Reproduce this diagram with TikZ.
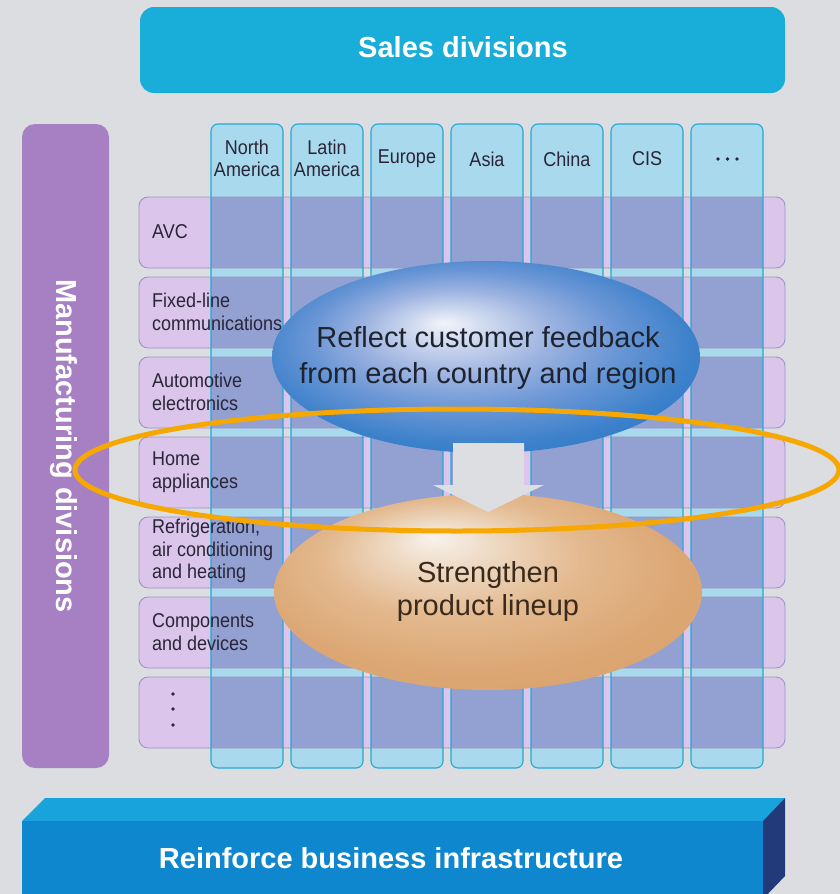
\documentclass[tikz,border=0pt]{standalone}
\usepackage{fontspec}
\setmainfont{Liberation Sans}
\newfontfamily\condfont[FakeStretch=0.9]{Liberation Sans}
\usetikzlibrary{shapes.geometric}
\definecolor{bg}{HTML}{DCDDE1}
\definecolor{sales}{HTML}{18AED9}
\definecolor{manu}{HTML}{A680C2}
\definecolor{colfill}{HTML}{A9D9EC}
\definecolor{colline}{HTML}{22A9D6}
\definecolor{rowfill}{HTML}{DBC5EA}
\definecolor{rowline}{HTML}{A092C6}
\definecolor{cellfill}{HTML}{92A1D2}
\definecolor{ringc}{HTML}{F7A800}
\definecolor{front}{HTML}{0E87CF}
\definecolor{topface}{HTML}{19A3DC}
\definecolor{sideface}{HTML}{22397A}
\definecolor{labtxt}{HTML}{2A2538}
\definecolor{bluetxt}{HTML}{1E2330}
\definecolor{tantxt}{HTML}{3A2A1C}
\definecolor{bA}{HTML}{F2F4FA}
\definecolor{bB}{HTML}{D2DCF0}
\definecolor{bC}{HTML}{9DB3E0}
\definecolor{bD}{HTML}{6A96D6}
\definecolor{bE}{HTML}{3A80CA}
\definecolor{bF}{HTML}{2A76C4}
\definecolor{tA}{HTML}{F8F2EC}
\definecolor{tB}{HTML}{EEDAC4}
\definecolor{tC}{HTML}{E3B98F}
\definecolor{tD}{HTML}{DCA774}
\definecolor{tE}{HTML}{D9A06A}
\pgfdeclareradialshading{blueball}{\pgfpoint{-5bp}{9bp}}{color(0bp)=(bA); color(4bp)=(bB); color(11bp)=(bC); color(18bp)=(bD); color(26bp)=(bE); color(36bp)=(bF)}
\pgfdeclareradialshading{tanball}{\pgfpoint{-6.5bp}{14bp}}{color(0bp)=(tA); color(6bp)=(tB); color(15bp)=(tC); color(25bp)=(tD); color(40bp)=(tE)}
\tikzset{
  bigtxt/.style={text=white, font=\bfseries\fontsize{29}{34}\selectfont, inner sep=0},
  coltxt/.style={text=labtxt, align=center, font=\condfont\fontsize{20}{22}\selectfont, inner sep=0},
  rowtxt/.style={text=labtxt, align=left, anchor=west, font=\condfont\fontsize{20}{22.5}\selectfont, inner sep=0},
  colbox/.style={fill=colfill, rounded corners=7pt},
  coledge/.style={draw=colline, line width=1.1pt, rounded corners=7pt},
  rowbox/.style={fill=rowfill, rounded corners=9pt},
  rowedge/.style={draw=rowline, line width=0.9pt, rounded corners=9pt},
  cellbox/.style={fill=cellfill},
  ring/.style={draw=ringc, line width=5pt},
  dotc/.style={fill=labtxt, circle, inner sep=0, minimum size=3.8pt}
}
\begin{document}
\begin{tikzpicture}[x=1pt,y=-1pt]
\useasboundingbox (0,0) rectangle (840,894);
\fill[bg] (0,0) rectangle (840,894);
% sales divisions
\node[fill=sales, rounded corners=14pt, minimum width=645pt, minimum height=86pt, inner sep=0] (salesbox) at (462.5,50) {};
\node[bigtxt] (salestxt) at (463,47) {Sales divisions};
% manufacturing divisions
\node[fill=manu, rounded corners=13pt, minimum width=87pt, minimum height=644pt, inner sep=0] (manubox) at (65.5,446) {};
\node[bigtxt, rotate=-90] (manutxt) at (64,446) {Manufacturing divisions};
% columns
\foreach \i in {0,...,6}{
  \fill[colbox] (211+80*\i,124) rectangle (283+80*\i,768);
}
% rows
\foreach \j in {0,...,6}{
  \fill[rowbox] (139,197+80*\j) rectangle (785,268+80*\j);
}
% overlap cells
\foreach \i in {0,...,6}{
  \foreach \j in {0,...,6}{
    \fill[cellbox] (211+80*\i,197+80*\j) rectangle (283+80*\i,268+80*\j);
  }
}
\foreach \j in {0,...,6}{
  \draw[rowedge] (139,197+80*\j) rectangle (785,268+80*\j);
}
\foreach \i in {0,...,6}{
  \draw[coledge] (211+80*\i,124) rectangle (283+80*\i,768);
}
% column headers
\node[coltxt] (na) at (247,158) {North\\America};
\node[coltxt] (la) at (327,158) {Latin\\America};
\node[coltxt] (eu) at (407,159) {Europe};
\node[coltxt] (as) at (487,159) {Asia};
\node[coltxt] (cn) at (567,159) {China};
\node[coltxt] (cis) at (647,159) {CIS};
\node[dotc] (hd1) at (718,159) {};
\node[dotc] (hd2) at (727.5,159) {};
\node[dotc] (hd3) at (737,159) {};
% row labels
\node[rowtxt] (avc) at (152,232) {AVC};
\node[rowtxt] (fix) at (152,312) {Fixed-line\\communications};
\node[rowtxt] (aut) at (152,392) {Automotive\\electronics};
\node[rowtxt] (home) at (152,472) {Home\\appliances};
\node[rowtxt] (refr) at (152,551) {Refrigeration,\\air conditioning\\and heating};
\node[rowtxt] (comp) at (152,632) {Components\\and devices};
\node[dotc] (rd1) at (173,694) {};
\node[dotc] (rd2) at (173,709) {};
\node[dotc] (rd3) at (173,725) {};
% ellipses
\node[ellipse, minimum width=428pt, minimum height=192pt, inner sep=0, shading=blueball] (blue) at (486,357) {};
\node[ellipse, minimum width=428pt, minimum height=196pt, inner sep=0, shading=tanball] (tan) at (488,592) {};
\node[text=bluetxt, align=center, font=\fontsize{29}{36}\selectfont, inner sep=0] (bluetext) at (488,358) {Reflect customer feedback\\from each country and region};
\node[text=tantxt, align=center, font=\fontsize{29}{33}\selectfont, inner sep=0] (tantext) at (488,591) {Strengthen\\product lineup};
% arrow
\fill[bg!96!white] (453,443) -- (524,443) -- (524,485) -- (544,485) -- (488,512) -- (433,485) -- (453,485) -- cycle;
% ring
\draw[ring] (457,470) ellipse [x radius=382, y radius=61];
% business infrastructure block
\fill[topface] (22,821) -- (45,798) -- (785,798) -- (763,821) -- cycle;
\fill[sideface] (763,821) -- (785,798) -- (785,876) -- (763,899) -- cycle;
\node[fill=front, minimum width=741pt, minimum height=80pt, inner sep=0, anchor=north west] (infra) at (22,821) {};
\node[bigtxt] (infratxt) at (391,858) {Reinforce business infrastructure};
\end{tikzpicture}
\end{document}
